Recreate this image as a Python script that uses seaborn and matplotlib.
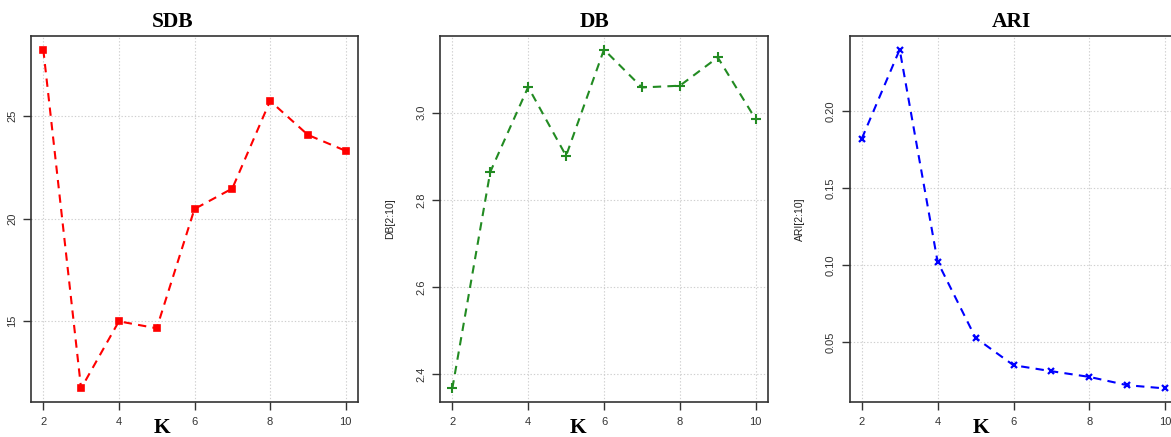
import matplotlib
matplotlib.use("Agg")
import matplotlib.pyplot as plt
import seaborn as sns
import pandas as pd

# ---- data ----
K = [2, 3, 4, 5, 6, 7, 8, 9, 10]
sdb = [28.26, 11.70, 14.98, 14.64, 20.47, 21.47, 25.75, 24.09, 23.31]
db = [2.367, 2.864, 3.059, 2.901, 3.145, 3.058, 3.062, 3.127, 2.985]
ari = [0.182, 0.240, 0.102, 0.0526, 0.0348, 0.0309, 0.0272, 0.0218, 0.0197]

x_ticks = [2, 4, 6, 8, 10]
sdb_ticks = [15, 20, 25]
db_ticks = [2.4, 2.6, 2.8, 3.0]
ari_ticks = [0.05, 0.10, 0.15, 0.20]
sdb_ticklabels = ["15", "20", "25"]
db_ticklabels = ["2.4", "2.6", "2.8", "3.0"]
ari_ticklabels = ["0.05", "0.10", "0.15", "0.20"]

titles = ["SDB", "DB", "ARI"]
ylabels = ["", "DB[2:10]", "ARI[2:10]"]

sns.set_style("white")
plt.rcParams["font.family"] = ["Liberation Sans", "DejaVu Sans"]

W, H = 1171, 437
fig = plt.figure(figsize=(W / 100, H / 100), dpi=100)

panels = [
    dict(left=31.2, width=326.6, y=sdb, ticks=sdb_ticks, labels=sdb_ticklabels,
         color="#FF0000", marker="s", ms=5, mew=1.2, title_x=172.5, k_x=162),
    dict(left=440.2, width=327.6, y=db, ticks=db_ticks, labels=db_ticklabels,
         color="#228B22", marker="+", ms=6.5, mew=1.5, title_x=594.3, k_x=577.7),
    dict(left=849.6, width=327.8, y=ari, ticks=ari_ticks, labels=ari_ticklabels,
         color="#0000FF", marker="x", ms=4.5, mew=1.6, title_x=1011, k_x=981),
]

top_px, bot_px = 36, 402
for i, p in enumerate(panels):
    ax = fig.add_axes([p["left"] / W, (H - bot_px) / H, p["width"] / W, (bot_px - top_px) / H])
    df = pd.DataFrame({"K": K, "v": p["y"]})
    sns.lineplot(data=df, x="K", y="v", ax=ax, color=p["color"], marker=p["marker"],
                 markersize=p["ms"], markeredgewidth=p["mew"], markeredgecolor=p["color"],
                 markerfacecolor=p["color"], linestyle=(0, (4, 3)), linewidth=1.5)
    ax.margins(x=0.04, y=0.04)
    ax.set_xticks(x_ticks)
    ax.set_xticklabels([str(t) for t in x_ticks])
    ax.set_yticks(p["ticks"])
    ax.set_yticklabels(p["labels"], rotation=90, va="center")
    ax.tick_params(axis="both", which="both", direction="out", length=6, width=1,
                   color="#333333", labelsize=8, labelcolor="#333333",
                   bottom=True, left=True, top=False, right=False)
    ax.tick_params(axis="x", pad=5)
    ax.tick_params(axis="y", pad=4)
    ax.grid(True, color="#CFCFCF", linestyle=(0, (1.2, 1.8)), linewidth=0.8)
    for s in ax.spines.values():
        s.set_visible(True)
        s.set_color("#333333")
        s.set_linewidth(1.2)
    ax.set_xlabel("")
    ax.set_ylabel(ylabels[i], fontsize=7.5, color="#222222")
    ax.yaxis.set_label_coords(-0.137, 0.5)
    fig.text(p["title_x"] / W, 1 - 22 / H, titles[i], ha="center", va="center",
             fontsize=15.5, fontweight="bold", family="Liberation Serif", color="black")
    fig.text(p["k_x"] / W, 1 - 428 / H, "K", ha="center", va="center",
             fontsize=15.5, fontweight="bold", family="Liberation Serif", color="black")

fig.savefig("out.png", dpi=100)
